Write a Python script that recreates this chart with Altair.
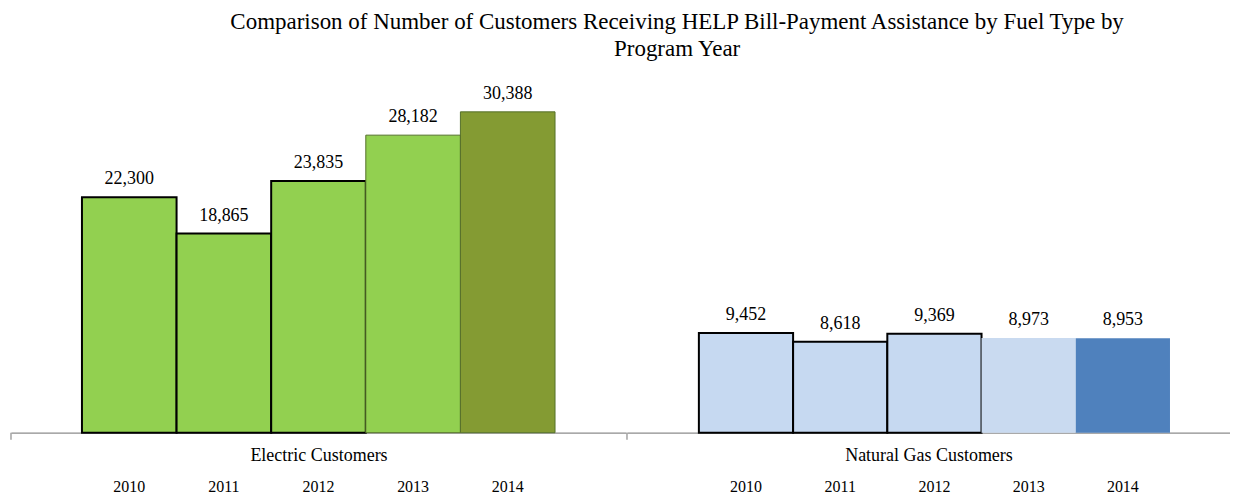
import altair as alt
import pandas as pd

years = [2010, 2011, 2012, 2013, 2014]
electric = [22300, 18865, 23835, 28182, 30388]
gas = [9452, 8618, 9369, 8973, 8953]
groups = ["Electric Customers", "Natural Gas Customers"]
title_lines = [
    "Comparison of Number of Customers Receiving  HELP Bill-Payment  Assistance by Fuel Type by",
    "Program Year",
]

FONT = "Liberation Serif"
H = 349
YMAX = 33000


def panel(values, name, colors, width, po, align, edge_color, edge_width):
    df = pd.DataFrame({"Year": years, "Customers": values})
    base = alt.Chart(df).encode(
        x=alt.X(
            "Year:O",
            scale=alt.Scale(paddingInner=0, paddingOuter=po, align=align),
            axis=alt.Axis(
                title=name,
                labelAngle=0,
                ticks=False,
                domainColor="#8c8c8c",
                domainWidth=1.2,
                labelPadding=46,
                labelFont=FONT,
                labelFontSize=16,
                labelColor="black",
                titleFont=FONT,
                titleFontSize=18,
                titleFontWeight="normal",
                titleColor="black",
                titleY=23,
                titleBaseline="middle",
            ),
        ),
        y=alt.Y("Customers:Q", scale=alt.Scale(domain=[0, YMAX]), axis=None),
    )
    bars = base.mark_bar().encode(
        color=alt.Color(
            "Year:O", scale=alt.Scale(domain=years, range=colors), legend=None
        ),
        stroke=alt.condition(
            alt.datum.Year <= 2012, alt.value("black"), alt.value(edge_color)
        ),
        strokeWidth=alt.condition(
            alt.datum.Year <= 2012, alt.value(2), alt.value(edge_width)
        ),
    )
    text = base.mark_text(
        baseline="alphabetic", dy=-13, font=FONT, fontSize=18, color="black"
    ).encode(text=alt.Text("Customers:Q", format=","))
    tick = (
        alt.Chart(pd.DataFrame({"t": [0]}))
        .mark_rule(color="#8c8c8c", strokeWidth=1.2)
        .encode(x=alt.value(0), y=alt.value(H), y2=alt.value(H + 7))
    )
    return alt.layer(bars, text, tick).properties(width=width, height=H)


left = panel(
    electric, groups[0],
    ["#92D050", "#92D050", "#92D050", "#92D050", "#849B33"],
    616, 0.75, 0.5, "#55702a", 1,
)
right = panel(
    gas, groups[1],
    ["#C6D9F1", "#C6D9F1", "#C6D9F1", "#C9DAF0", "#4F81BD"],
    604, 0.7, 0.545, "#C6D9F1", 0,
)

chart = (
    alt.hconcat(left, right, spacing=0)
    .resolve_scale(color="independent")
    .properties(
        title=alt.TitleParams(
            text=title_lines,
            font=FONT,
            fontSize=23,
            fontWeight="normal",
            color="black",
            anchor="middle",
            lineHeight=27,
            offset=23,
            dx=57,
        ),
        padding={"left": 2, "top": 3, "right": 0, "bottom": 0},
    )
    .configure_view(stroke=None)
    .configure_title(font=FONT, fontWeight="normal")
    .configure_text(font=FONT)
)

chart.save("out.html", embed_options={"renderer": "svg", "actions": False})
